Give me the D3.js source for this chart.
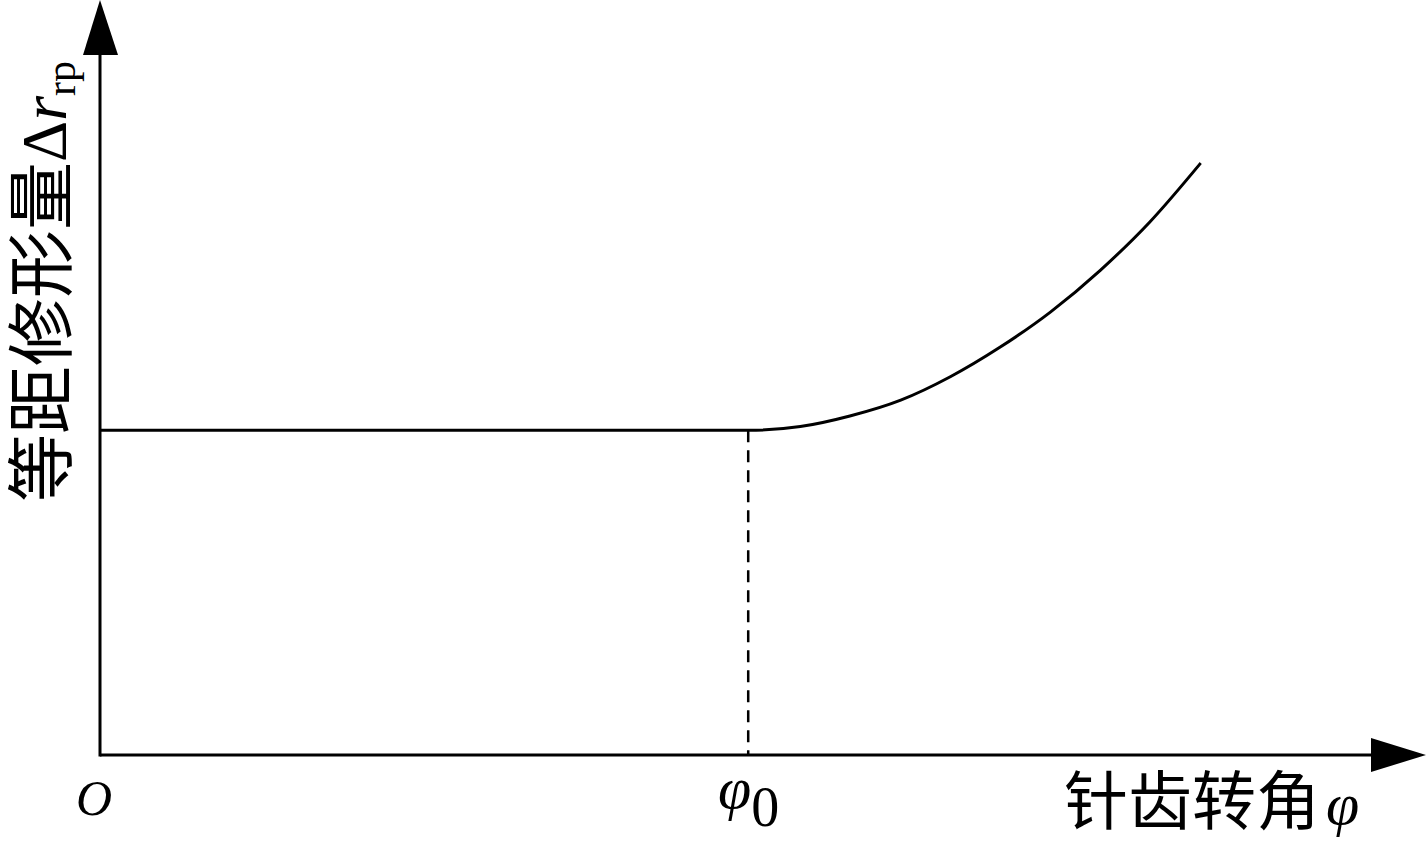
<!DOCTYPE html>
<html><head><meta charset="utf-8">
<script src="https://cdn.jsdelivr.net/npm/d3@7"></script>
<style>html,body{margin:0;padding:0;background:#fff;overflow:hidden}</style>
</head><body>
<script>
// Data (arbitrary units)
const phi0 = 51.0;
const flatLevel = 43.0;
const curveX = [0, 51.0, 55.1, 59.0, 63.0, 66.9, 70.8, 74.8, 78.7, 82.6, 86.6];
const curveY = [43.0, 43.0, 43.5, 44.9, 47.0, 50.1, 54.0, 58.7, 64.2, 70.6, 78.4];
const xLabel = "针齿转角";
const yLabel = "等距修形量";

const W = 1427, H = 848;
const svg = d3.select("body").append("svg").attr("width", W).attr("height", H);
const x = d3.scaleLinear().domain([0, 100]).range([100, 1371]);
const y = d3.scaleLinear().domain([0, 100]).range([755, 0]);
const serif = "'Liberation Serif','Times New Roman','Noto Sans CJK SC',serif";
const cjk = "'Noto Sans CJK SC',sans-serif";

// axes lines
svg.append("line").attr("x1", x(0)).attr("y1", y(0)).attr("x2", 1372).attr("y2", y(0))
  .attr("stroke", "#000").attr("stroke-width", 3);
svg.append("line").attr("x1", x(0)).attr("y1", y(0) + 1.5).attr("x2", x(0)).attr("y2", 54)
  .attr("stroke", "#000").attr("stroke-width", 3);
// arrowheads
svg.append("path").attr("d", `M${x(0)},0 L${x(0)-17},55 L${x(0)+18},55 Z`).attr("fill", "#000");
svg.append("path").attr("d", `M1426,${y(0)} L1371,${y(0)-17} L1371,${y(0)+17} Z`).attr("fill", "#000");

// dashed line at phi0
svg.append("line").attr("x1", x(phi0)).attr("x2", x(phi0)).attr("y1", y(flatLevel)).attr("y2", y(0))
  .attr("stroke", "#000").attr("stroke-width", 2.5).attr("stroke-dasharray", "12,8");

// curve
const pts = curveX.map((v, i) => [v, curveY[i]]);
svg.append("path").datum(pts)
  .attr("d", d3.line().x(d => x(d[0])).y(d => y(d[1])).curve(d3.curveMonotoneX))
  .attr("fill", "none").attr("stroke", "#000").attr("stroke-width", 3);

// origin label
svg.append("text").attr("x", 76).attr("y", 815).attr("font-family", serif)
  .attr("font-style", "italic").attr("font-size", 50).text("O");

// phi0 label
const p0 = svg.append("text").attr("x", 718).attr("y", 808).attr("font-family", serif).attr("font-size", 60);
p0.append("tspan").attr("font-style", "italic").text("φ");
p0.append("tspan").attr("font-size", 56).attr("dy", 18).text("0");

// x label
const xl = svg.append("text").attr("x", 1064).attr("y", 824).attr("font-size", 64);
xl.append("tspan").attr("font-family", cjk).text(xLabel);
xl.append("tspan").attr("font-family", serif).attr("font-style", "italic").attr("font-size", 60).attr("dx", 6).text("φ");

// y label (rotated)
const yl = svg.append("text").attr("transform", "translate(66,502) rotate(-90)").attr("font-size", 68);
yl.append("tspan").attr("font-family", cjk).text(yLabel);
yl.append("tspan").attr("font-family", serif).attr("font-size", 64).text("Δ");
yl.append("tspan").attr("font-family", serif).attr("font-style", "italic").attr("font-size", 64).text("r");
yl.append("tspan").attr("font-family", serif).attr("font-size", 42).attr("dy", 9).text("rp");
</script>
</body></html>
